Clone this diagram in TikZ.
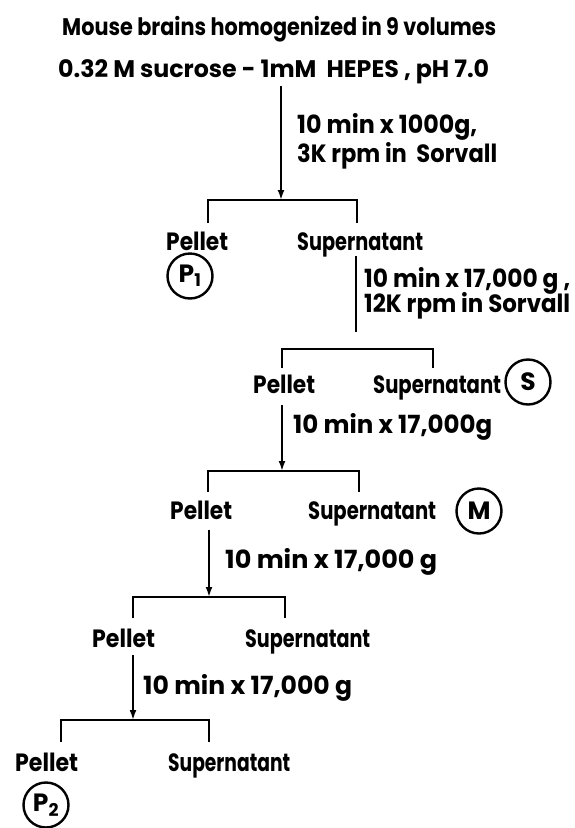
\documentclass[tikz,border=0pt]{standalone}
\usepackage{graphicx}
\usepackage{fontspec}
\setmainfont{Poppins}
\usetikzlibrary{arrows.meta}
\newcommand{\fw}[2]{\resizebox{#1}{\height}{#2}}
\tikzset{
  txt/.style={font=\fontsize{25}{27}\selectfont\bfseries, inner sep=0pt, anchor=base west},
  ttl/.style={font=\fontsize{24}{26}\selectfont\bfseries, inner sep=0pt, anchor=base west},
  ln/.style={line width=2.6pt},
  arr/.style={line width=2.6pt, -{Latex[length=10pt,width=7pt]}},
  circ/.style={circle, draw, line width=2.4pt, minimum size=45pt, inner sep=0pt,
    font=\fontsize{25}{27}\selectfont\bfseries}
}
\begin{document}
\begin{tikzpicture}[x=1pt,y=-1pt]
\useasboundingbox (0,0) rectangle (574,828);
% title
\node[ttl] (t1) at (62,35) {\fw{434pt}{Mouse brains homogenized in 9 volumes}};
\node[ttl] (t2) at (58,77) {\fw{431pt}{0.32 M sucrose - 1mM \ HEPES , pH 7.0}};
% step 1
\coordinate (s0) at (281,86);
\coordinate (j1) at (281,200);
\draw[arr] (s0) -- (j1);
\node[txt] (c1a) at (297,133) {\fw{180pt}{10 min x 1000g,}};
\node[txt] (c1b) at (297,162) {\fw{200pt}{3K rpm in \ Sorvall}};
\coordinate (b1l) at (208,223);
\coordinate (b1r) at (357,223);
\draw[ln] (b1l) -- (b1l |- j1) -- (b1r |- j1) -- (b1r);
\node[txt] (pel1) at (166,250) {\fw{62pt}{Pellet}};
\node[txt] (sup1) at (297,250) {\fw{126pt}{Supernatant}};
\node[circ] (P1) at (190,276) {P\textsubscript{1}};
% step 2
\coordinate (s1) at (356,256);
\coordinate (e1) at (356,332);
\draw[ln] (s1) -- (e1);
\node[txt] (c2a) at (364,287) {\fw{206pt}{10 min x 17,000 g ,}};
\node[txt] (c2b) at (364,312) {\fw{206pt}{12K rpm in Sorvall}};
\coordinate (j2) at (357,349);
\coordinate (b2l) at (282,368);
\coordinate (b2r) at (433,368);
\draw[ln] (b2l) -- (b2l |- j2) -- (b2r |- j2) -- (b2r);
\node[txt] (pel2) at (253,393) {\fw{62pt}{Pellet}};
\node[txt] (sup2) at (373,393) {\fw{128pt}{Supernatant}};
\node[circ] (S) at (528,382) {S};
% step 3
\coordinate (s2) at (282,405);
\coordinate (j3) at (282,471);
\draw[arr] (s2) -- (j3);
\node[txt] (c3) at (293,433) {\fw{199pt}{10 min x 17,000g}};
\coordinate (b3l) at (208,492);
\coordinate (b3r) at (359,492);
\draw[ln] (b3l) -- (b3l |- j3) -- (b3r |- j3) -- (b3r);
\node[txt] (pel3) at (170,519) {\fw{62pt}{Pellet}};
\node[txt] (sup3) at (308,519) {\fw{128pt}{Supernatant}};
\node[circ] (M) at (479,511) {M};
% step 4
\coordinate (s3) at (209,530);
\coordinate (j4) at (209,597);
\draw[arr] (s3) -- (j4);
\node[txt] (c4) at (225,568) {\fw{212pt}{10 min x 17,000 g}};
\coordinate (b4l) at (133,618);
\coordinate (b4r) at (285,618);
\draw[ln] (b4l) -- (b4l |- j4) -- (b4r |- j4) -- (b4r);
\node[txt] (pel4) at (92,647) {\fw{63pt}{Pellet}};
\node[txt] (sup4) at (245,647) {\fw{125pt}{Supernatant}};
% step 5
\coordinate (s4) at (133,655);
\coordinate (j5) at (133,720);
\draw[arr] (s4) -- (j5);
\node[txt] (c5) at (143,694) {\fw{209pt}{10 min x 17,000 g}};
\coordinate (b5l) at (61,742);
\coordinate (b5r) at (209,742);
\draw[ln] (b5l) -- (b5l |- j5) -- (b5r |- j5) -- (b5r);
\node[txt] (pel5) at (15,771) {\fw{63pt}{Pellet}};
\node[txt] (sup5) at (168,771) {\fw{122pt}{Supernatant}};
\node[circ] (P2) at (46,805) {P\textsubscript{2}};
\end{tikzpicture}
\end{document}
